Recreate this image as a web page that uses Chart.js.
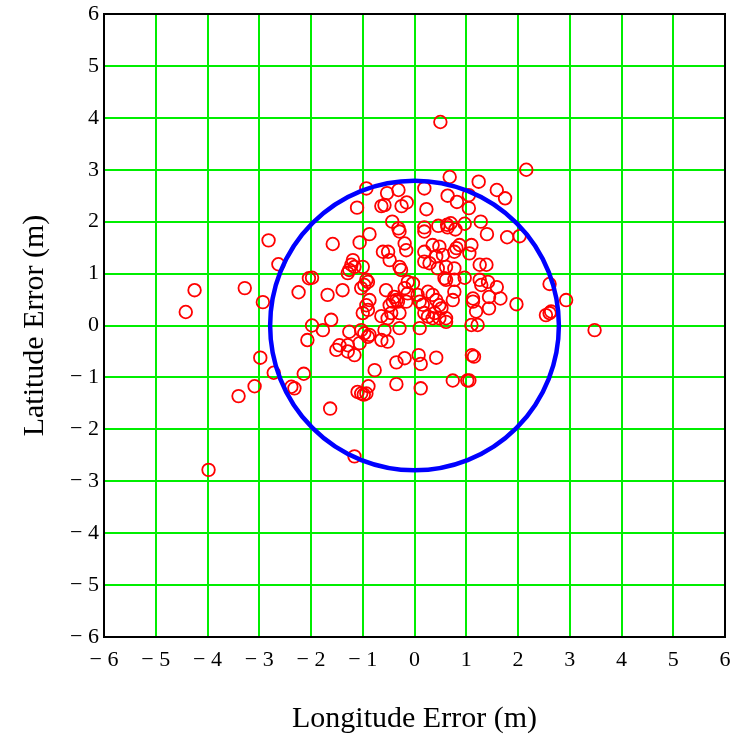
<!DOCTYPE html>
<html>
<head>
<meta charset="utf-8">
<script src="https://cdn.jsdelivr.net/npm/chart.js@4"></script>
<style>
  html, body { margin: 0; padding: 0; background: #fff; }
  #wrap { width: 735px; height: 738px; }
</style>
</head>
<body>
<div id="wrap"><canvas id="chart" width="735" height="738"></canvas></div>
<script>
// Axis setup
const axisMin = -6;
const axisMax = 6;
const xTitle = "Longitude Error (m)";
const yTitle = "Latitude Error (m)";

// CEP circle (centre and radius in metres)
const cepCenter = [0, 0];
const cepRadius = 2.79;

// Error samples
const longitudeErr = [
  0.50, 2.16, -4.42, -4.25, -3.28, -2.82, -2.63, -2.93, -2.24, 3.48, 2.93, -3.98, -3.40, -3.09, -2.98, -2.72, -2.38, -2.32, -2.14, -1.63, -1.16, -2.04, -2.07,
  -0.93, -0.53, -0.31, 0.19, 0.68, 0.64, -1.11, -0.64, -0.58, -0.25, -0.15, 0.23, -0.43, -0.31, 0.19, 0.46, 0.63, 0.64, 1.24, 1.59, 1.75, 0.82, 1.05, 1.05, 1.28, 0.97, 0.70, 0.79, 1.40, 1.79, 2.03,
  -1.58, -1.06, -0.87, -0.61, -0.51, -0.48, -0.29, -0.19, -0.16, 0.19, 0.35, 0.48, 0.19, 0.19, 0.29, 0.42, 0.55, 0.61, 0.45, -1.19, -1.22, -1.26, -1.29, -1.16, -1.00, -1.98,
  -1.68, -1.39, -0.93, -0.90, -0.97, -1.03, -0.55, -0.29, -0.26, -0.19, -0.39, -0.35, -0.32, -0.42, -0.48, -0.87, -0.93, -0.90, -0.64, -0.52, -0.45, -1.00, -0.29, -0.13, -0.16,
  0.06, 0.10, 0.16, 0.19, 0.26, 0.35, 0.42, 0.48, 0.52, 0.39, 0.26, 0.61, -0.13, -0.03, 0.58, -1.98,
  -1.77, -1.61, -1.26, -1.03, -0.97, -0.90, -0.87, -1.45, -1.29, -1.06, -0.58, -0.64, -0.52, -0.29, 0.10, 0.35, 0.48,
  0.87, 0.81, 0.77, 1.10, 1.06, 1.26, 1.39, 0.77, 0.61, 0.77, 0.97, 1.26, 1.29, 1.42, 2.61, 1.59, 1.66, 1.44, 1.44, 1.97, 1.13, 1.13, 1.19, 0.74, 0.77, 2.54, 2.61, 2.64, 1.10, 1.22, 0.61,
  -1.51, -1.29, -1.16, -0.77, -1.10, -1.03, -0.98, -0.93, -0.89, -0.35, -0.19, -0.35, 0.08, 0.12, 0.12, 0.42, 1.11, 1.15, 0.74, 1.02, 1.06
];
const latitudeErr = [
  3.92, 3.00, 0.26, 0.68, 0.72, 1.64, 1.18, 0.45, 0.64, -0.09, 0.49, -2.78, -1.36, -1.17, -0.62, -0.91, -1.18, -1.21, -0.93, -1.60, -2.52, 0.91, -0.28,
  2.64, 2.55, 2.61, 2.64, 2.86, 2.50, 2.27, 2.30, 2.32, 2.30, 2.37, 2.24, 2.00, 1.87, 1.89, 1.92, 1.94, 1.89, 2.77, 2.61, 2.45, 2.38, 2.51, 2.26, 2.00, 1.96, 1.97, 1.85, 1.76, 1.70, 1.72,
  1.57, 1.60, 1.76, 1.42, 1.42, 1.26, 1.81, 1.58, 1.45, 1.81, 1.55, 1.52, 1.42, 1.23, 1.20, 1.33, 1.36, 1.13, 1.10, 1.26, 1.17, 1.07, 1.01, 1.13, 1.13, 0.92,
  0.59, 0.68, 0.88, 0.84, 0.78, 0.72, 0.68, 1.13, 1.07, 0.72, 0.55, 0.49, 0.46, 0.46, 0.39, 0.49, 0.39, 0.30, 0.18, 0.14, 0.24, 0.24, 0.24, 0.62, 0.46,
  0.59, 0.46, 0.40, 0.24, 0.65, 0.59, 0.49, 0.39, 0.33, 0.24, 0.17, 0.14, 0.84, 0.81, 0.91, 0.00,
  -0.09, 0.11, -0.12, -0.09, -0.15, -0.22, -0.18, -0.38, -0.38, -0.34, -0.09, -0.28, -0.31, -0.05, -0.05, 0.14, 0.14,
  1.55, 1.49, 1.42, 1.55, 1.39, 1.17, 1.17, 1.10, 0.88, 0.88, 0.92, 0.88, 0.78, 0.84, 0.80, 0.74, 0.52, 0.55, 0.33, 0.41, 0.52, 0.46, 0.27, 0.49, 0.65, 0.20, 0.24, 0.27, 0.01, 0.01, 0.07,
  -0.47, -0.50, -0.57, -0.86, -1.28, -1.31, -1.33, -1.31, -1.17, -0.71, -0.63, -1.13, -0.57, -0.74, -1.21, -0.62, -0.57, -0.60, -1.06, -1.06, -1.06
];

const points = longitudeErr.map((x, i) => ({ x, y: latitudeErr[i] }));

// Minus sign with a space, like the original
function tickLabel(v) {
  return v < 0 ? "\u2212 " + Math.abs(v) : String(v);
}

// Blue CEP circle and black frame around the plot area
const cepPlugin = {
  id: "cep",
  afterDatasetsDraw(chart) {
    const { ctx, scales: { x, y } } = chart;
    const cx = x.getPixelForValue(cepCenter[0]);
    const cy = y.getPixelForValue(cepCenter[1]);
    const rx = Math.abs(x.getPixelForValue(cepCenter[0] + cepRadius) - cx);
    const ry = Math.abs(y.getPixelForValue(cepCenter[1] + cepRadius) - cy);
    ctx.save();
    ctx.strokeStyle = "#0000ff";
    ctx.lineWidth = 4.5;
    ctx.beginPath();
    ctx.ellipse(cx, cy, rx, ry, 0, 0, Math.PI * 2);
    ctx.stroke();
    ctx.restore();
  },
  afterDraw(chart) {
    const { ctx, chartArea: a } = chart;
    ctx.save();
    ctx.strokeStyle = "#000";
    ctx.lineWidth = 2;
    ctx.strokeRect(a.left, a.top, a.right - a.left, a.bottom - a.top);
    ctx.restore();
  }
};

const serif = "'Liberation Serif', 'Times New Roman', serif";

new Chart(document.getElementById("chart"), {
  type: "scatter",
  data: {
    datasets: [{
      data: points,
      pointStyle: "circle",
      pointRadius: 6.3,
      pointHoverRadius: 6.3,
      pointBorderWidth: 1.8,
      borderColor: "#ff0000",
      backgroundColor: "rgba(0,0,0,0)"
    }]
  },
  options: {
    responsive: false,
    animation: false,
    layout: { padding: { top: 14, right: 10, left: 0, bottom: 0 } },
    plugins: { legend: { display: false }, tooltip: { enabled: false } },
    scales: {
      x: {
        type: "linear",
        min: axisMin,
        max: axisMax,
        afterFit(s) { s.height = 101; s.paddingLeft = 0; s.paddingRight = 0; },
        ticks: {
          stepSize: 1,
          color: "#000",
          padding: 10,
          maxRotation: 0,
          font: { family: serif, size: 22 },
          callback: tickLabel
        },
        grid: { color: "#00ee00", lineWidth: 2, drawTicks: false },
        border: { display: false },
        title: {
          display: true,
          text: xTitle,
          color: "#000",
          font: { family: serif, size: 30 },
          padding: { top: 0, bottom: 1 }
        }
      },
      y: {
        type: "linear",
        min: axisMin,
        max: axisMax,
        afterFit(s) { s.width = 104; s.paddingTop = 0; s.paddingBottom = 0; },
        ticks: {
          stepSize: 1,
          color: "#000",
          padding: 5,
          font: { family: serif, size: 22 },
          callback: tickLabel
        },
        grid: { color: "#00ee00", lineWidth: 2, drawTicks: false },
        border: { display: false },
        title: {
          display: true,
          text: yTitle,
          color: "#000",
          font: { family: serif, size: 30 },
          padding: { top: 17, bottom: 0 }
        }
      }
    }
  },
  plugins: [cepPlugin]
});
</script>
</body>
</html>
